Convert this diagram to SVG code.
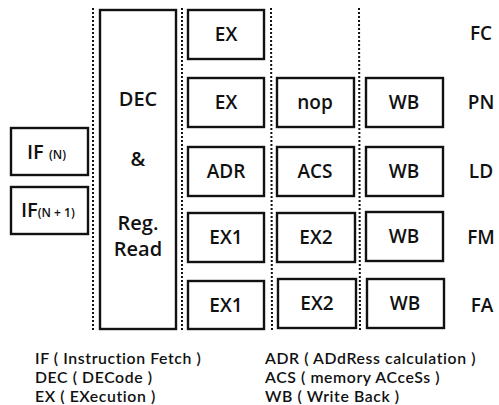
<svg xmlns="http://www.w3.org/2000/svg" width="499" height="405" viewBox="0 0 499 405">
<style>
.box{fill:#fff;stroke:#111;stroke-width:2.4}
.dot{stroke:#111;stroke-width:2;stroke-dasharray:2 2;fill:none}
text{font-family:"Open Sans","Noto Sans",sans-serif;fill:#111;font-weight:600}
.t{font-size:19px;text-anchor:middle}
.d{font-size:20px;text-anchor:middle}
.lab{font-size:19px;text-anchor:middle}
.leg{font-family:Lato,"Open Sans",sans-serif;font-size:15.8px;letter-spacing:0.6px;font-weight:600}
.sub{font-size:12px}
</style>
<rect width="499" height="405" fill="#fff"/>
<g id="connectors">
<line class="dot" x1="93" y1="8" x2="93" y2="331"/>
<line class="dot" x1="182" y1="8" x2="182" y2="331"/>
<line class="dot" x1="271" y1="8" x2="272" y2="331"/>
<line class="dot" x1="359" y1="8" x2="360" y2="331"/>
</g>
<g id="if-n"><rect class="box" x="11" y="128" width="77" height="47"/><text x="27" y="159" font-size="20">IF <tspan class="sub">(N)</tspan></text></g>
<g id="if-n1"><rect class="box" x="11" y="187" width="77" height="47"/><text x="21" y="217" font-size="20">IF<tspan class="sub">(N + 1)</tspan></text></g>
<g id="dec"><rect class="box" x="100" y="10" width="76" height="319"/>
<text class="d" x="138" y="106">DEC</text>
<text class="d" x="138" y="166">&amp;</text>
<text class="d" x="138" y="230">Reg.</text>
<text class="d" x="138" y="256">Read</text></g>
<g id="fc-ex"><rect class="box" x="188" y="10" width="76" height="49"/><text class="t" x="226" y="41">EX</text></g>
<g id="pn-ex"><rect class="box" x="188" y="78" width="76" height="49"/><text class="t" x="226" y="109">EX</text></g>
<g id="pn-nop"><rect class="box" x="277" y="78" width="77" height="49"/><text class="t" x="315" y="109">nop</text></g>
<g id="pn-wb"><rect class="box" x="366" y="78" width="77" height="49"/><text class="t" x="404" y="109">WB</text></g>
<g id="ld-adr"><rect class="box" x="188" y="147" width="76" height="49"/><text class="t" x="226" y="178">ADR</text></g>
<g id="ld-acs"><rect class="box" x="277" y="147" width="77" height="49"/><text class="t" x="315" y="178">ACS</text></g>
<g id="ld-wb"><rect class="box" x="366" y="147" width="77" height="49"/><text class="t" x="404" y="178">WB</text></g>
<g id="fm-ex1"><rect class="box" x="188" y="213" width="76" height="49"/><text class="t" x="226" y="244">EX1</text></g>
<g id="fm-ex2"><rect class="box" x="277" y="213" width="78" height="49"/><text class="t" x="316" y="244">EX2</text></g>
<g id="fm-wb"><rect class="box" x="366" y="212" width="77" height="49"/><text class="t" x="404" y="243">WB</text></g>
<g id="fa-ex1"><rect class="box" x="188" y="281" width="76" height="48"/><text class="t" x="226" y="312">EX1</text></g>
<g id="fa-ex2"><rect class="box" x="278" y="279" width="78" height="49"/><text class="t" x="317" y="310">EX2</text></g>
<g id="fa-wb"><rect class="box" x="367" y="279" width="77" height="49"/><text class="t" x="405" y="310">WB</text></g>
<g id="labels">
<text class="lab" x="481" y="40">FC</text>
<text class="lab" x="481" y="109">PN</text>
<text class="lab" x="481" y="178">LD</text>
<text class="lab" x="481" y="244">FM</text>
<text class="lab" x="482" y="312">FA</text>
</g>
<g id="legend">
<text class="leg" x="35" y="364">IF ( Instruction Fetch )</text>
<text class="leg" x="35" y="383">DEC ( DECode )</text>
<text class="leg" x="35" y="402">EX ( EXecution )</text>
<text class="leg" x="265" y="364">ADR ( ADdRess calculation )</text>
<text class="leg" x="265" y="383">ACS ( memory ACceSs )</text>
<text class="leg" x="265" y="402">WB ( Write Back )</text>
</g>
</svg>
